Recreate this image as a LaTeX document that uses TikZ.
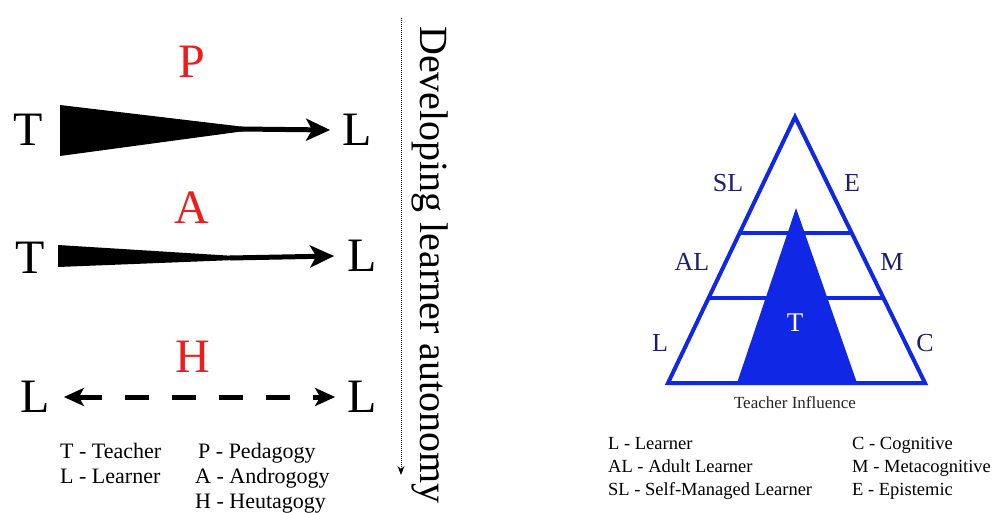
\documentclass[tikz,border=0pt]{standalone}
\usepackage{fontspec}
\setmainfont{Liberation Serif}
\usetikzlibrary{arrows.meta,calc}
\definecolor{pblue}{RGB}{16,40,230}
\definecolor{navy}{RGB}{30,30,110}
\definecolor{pred}{RGB}{235,30,30}
\begin{document}
\begin{tikzpicture}[x=1pt,y=-1pt,
  big/.style={font=\fontsize{48}{48}\selectfont, inner sep=0pt},
  redbig/.style={big, text=pred},
  legl/.style={font=\fontsize{22}{22}\selectfont, inner sep=0pt, anchor=base west},
  legr/.style={font=\fontsize{18.5}{18.5}\selectfont, inner sep=0pt, anchor=base west},
  trilab/.style={font=\fontsize{26}{26}\selectfont, inner sep=0pt, text=navy},
  thickarrow/.style={line width=5pt, -{Stealth[length=24pt,width=22pt,inset=6pt]}},
  dasharrow/.style={line width=5pt, {Stealth[length=20pt,width=18pt,inset=5pt]}-{Stealth[length=20pt,width=18pt,inset=5pt]}, dash pattern=on 24pt off 23pt, dash phase=0pt},
  tri/.style={draw=pblue, line width=4pt},
]
\useasboundingbox (0,0) rectangle (993,513);

% ---------- left part ----------
\node[redbig] (P) at (192,62) {P};
\node[big] (T1) at (28,130) {T};
\node[big] (L1) at (357,130) {L};
\fill (60,105) -- (245,127) -- (245,131) -- (60,156) -- cycle;
\coordinate (w1) at (240,129);
\draw[thickarrow] (w1) -- ([xshift=-12pt]L1.west);

\node[redbig] (A) at (192,208) {A};
\node[big] (T2) at (30,258) {T};
\node[big] (L2) at (362,256) {L};
\fill (58,245) -- (235,256) -- (235,260) -- (58,267) -- cycle;
\coordinate (w2) at (230,258);
\draw[thickarrow] (w2) -- ([xshift=-13pt]L2.west);

\node[redbig] (H) at (193,357) {H};
\node[big] (L3) at (35,397) {L};
\node[big] (L4) at (362,397) {L};
\draw[dasharrow] ([xshift=14pt]L3.east) -- ([xshift=-12pt]L4.west);

\node[legl] (t1) at (60,458) {T - Teacher};
\node[legl] (t2) at (60,483) {L - Learner};
\node[legl] (t3) at (198,458) {P - Pedagogy};
\node[legl] (t4) at (195,483) {A - Androgogy};
\node[legl] (t5) at (195,508) {H - Heutagogy};

% dotted arrow and rotated text
\coordinate (d1) at (401,18);
\coordinate (d2) at (401,475);
\draw[line width=1pt, densely dotted, -{Stealth[length=9pt,width=7pt]}] (d1) -- (d2);
\node[font=\fontsize{40}{40}\selectfont, rotate=-90, inner sep=0pt] (dev) at (430,265) {Developing learner autonomy};

% ---------- right part ----------
\coordinate (apex) at (795,117);
\coordinate (bl) at (668,383);
\coordinate (br) at (925,383);
\fill[pblue] (796,208) -- (857,383) -- (737,383) -- cycle;
\draw[tri] ($(apex)!0.436!(bl)$) -- ($(apex)!0.436!(br)$);
\draw[tri] ($(apex)!0.680!(bl)$) -- ($(apex)!0.680!(br)$);
\draw[tri] (apex) -- (br) -- (bl) -- cycle;
\node[font=\fontsize{27}{27}\selectfont, text=white, inner sep=0pt] (Tin) at (795,323) {T};
\node[font=\fontsize{17}{17}\selectfont, inner sep=0pt, text=black!85] (ti) at (795,403) {Teacher Influence};

\node[trilab] (SL) at (728,183) {SL};
\node[trilab] (E) at (852,183) {E};
\node[trilab] (AL) at (692,262) {AL};
\node[trilab] (M) at (892,262) {M};
\node[trilab] (Lr) at (660,343) {L};
\node[trilab] (C) at (925,343) {C};

\node[legr] (r1) at (608,449) {L - Learner};
\node[legr] (r2) at (608,472) {AL - Adult Learner};
\node[legr] (r3) at (608,495) {SL - Self-Managed Learner};
\node[legr] (r4) at (852,449) {C - Cognitive};
\node[legr] (r5) at (852,472) {M - Metacognitive};
\node[legr] (r6) at (852,495) {E - Epistemic};
\end{tikzpicture}
\end{document}
